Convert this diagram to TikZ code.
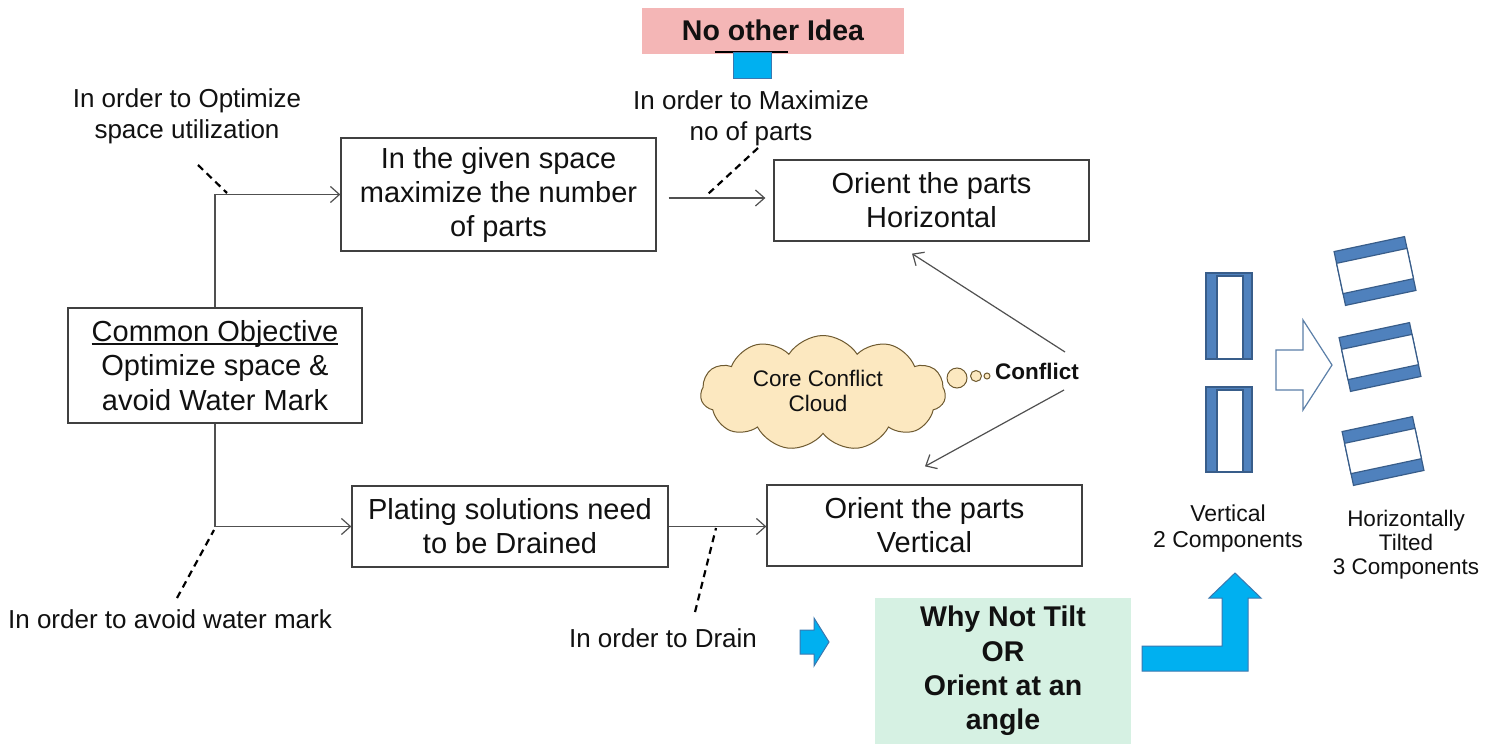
\documentclass[tikz,border=0pt]{standalone}
\usepackage{fontspec}
\setmainfont{Liberation Sans}
\usetikzlibrary{arrows.meta,shapes.symbols,calc}
\definecolor{boxc}{HTML}{404040}
\definecolor{linec}{HTML}{505050}
\definecolor{txt}{HTML}{111111}
\definecolor{pinkc}{HTML}{F4B6B6}
\definecolor{greenc}{HTML}{D6F1E3}
\definecolor{brightblue}{HTML}{00B0F0}
\definecolor{brightblueb}{HTML}{3A78B0}
\definecolor{compblue}{HTML}{4F81BD}
\definecolor{compblueb}{HTML}{385D8A}
\definecolor{cloudfill}{HTML}{FCE8C0}
\definecolor{cloudline}{HTML}{6E5A30}
\definecolor{hollowb}{HTML}{5B7FA8}
\newcommand{\myul}[1]{\setbox0\hbox{#1}\rlap{\rule[-3.5pt]{\wd0}{1.4pt}}\box0}
\begin{document}
\begin{tikzpicture}[x=1pt,y=-1pt,
  box/.style={draw=boxc, line width=1.3pt, align=center, inner sep=0pt, text=txt,
    font=\fontsize{29}{34}\selectfont},
  lab/.style={align=center, text=txt, font=\fontsize{26}{31}\selectfont},
  smalllab/.style={align=center, text=txt, font=\fontsize{23}{26}\selectfont},
  arr/.style={draw=linec, line width=1.2pt, -{Straight Barb[length=9pt,width=16pt,line width=1.2pt]}},
  dashln/.style={draw=black, line width=2.2pt, dash pattern=on 7pt off 5pt},
  comp/.style={fill=compblue, draw=compblueb, line width=1.2pt},
  compin/.style={fill=white, draw=compblueb, line width=1.2pt},
  bluearrow/.style={fill=brightblue, draw=brightblueb, line width=1pt}
]
\useasboundingbox (0,0) rectangle (1495,744);
\fill[white] (0,0) rectangle (1495,744);

% ---- top: No other Idea
\node[fill=pinkc, minimum width=262pt, minimum height=46pt, inner sep=0pt,
      font=\fontsize{28.5}{34}\selectfont\bfseries, text=txt] (idea) at (773,30.5) {No other Idea};
\draw[black, line width=1.2pt] (715,52) -- (788,52);
\draw[fill=brightblue, draw=brightblueb, line width=1pt] (733,52) rectangle (771,78);

% ---- main boxes
\node[box, minimum width=315pt, minimum height=113pt] (b1) at (498.5,194.5)
  {In the given space\\maximize the number\\of parts};
\node[box, minimum width=315pt, minimum height=81pt] (hz) at (931.5,200.5)
  {Orient the parts\\Horizontal};
\node[box, minimum width=294pt, minimum height=115pt, font=\fontsize{29}{34.5}\selectfont] (obj) at (215,365.5)
  {\myul{Common Objective}\\Optimize space \&\\avoid Water Mark};
\node[box, minimum width=316pt, minimum height=81pt] (b3) at (510,526.5)
  {Plating solutions need\\to be Drained};
\node[box, minimum width=315pt, minimum height=81pt] (vt) at (924.5,525.5)
  {Orient the parts\\Vertical};
\node[fill=greenc, minimum width=256pt, minimum height=146pt, inner sep=0pt, align=center,
      text=txt, font=\fontsize{28.5}{34.3}\selectfont\bfseries] (why) at (1003,671)
  {Why Not Tilt\\OR\\Orient at an\\angle};

% ---- labels
\node[lab] (lopt) at (187,116.5) {In order to Optimize\\space utilization};
\node[lab] (lmax) at (751,118) {In order to Maximize\\no of parts};
\node[lab] (lwat) at (170,619) {In order to avoid water mark};
\node[lab] (ldrn) at (663,638) {In order to Drain};

% ---- connectors
\draw[arr] (obj.north) |- (b1.west);
\draw[arr] (obj.south) |- (b3.west);
\draw[arr] ($(b1.east)+(12,3.5)$) -- ($(hz.west |- b1.east)+(-8,3.5)$);
\draw[arr] (b3.east) -- (vt.west |- b3.east);

% dashed reasons
\coordinate (d1a) at (198,165); \coordinate (d1b) at (227,193);
\coordinate (d2a) at (758,148); \coordinate (d2b) at (708,194);
\coordinate (d3a) at (177,598); \coordinate (d3b) at (214,530);
\coordinate (d4a) at (695,612); \coordinate (d4b) at (716,528);
\draw[dashln] (d1a) -- (d1b);
\draw[dashln] (d2a) -- (d2b);
\draw[dashln] (d3a) -- (d3b);
\draw[dashln] (d4a) -- (d4b);

% ---- cloud and conflict
\node[cloud, cloud puffs=11, cloud puff arc=115, aspect=2.1, fill=cloudfill, draw=cloudline,
      line width=1pt, minimum width=245pt, minimum height=115pt] (cloud) at (823,393) {};
\node[align=center, text=txt, font=\fontsize{22.5}{25}\selectfont] (cloudtxt) at (818,391) {Core Conflict\\Cloud};
\draw[fill=cloudfill, draw=cloudline, line width=1pt] (957,378) circle (10pt);
\draw[fill=cloudfill, draw=cloudline, line width=1pt] (976,376) circle (5.5pt);
\draw[fill=cloudfill, draw=cloudline, line width=1pt] (987,376) circle (3pt);
\node[text=txt, font=\fontsize{22.5}{26}\selectfont\bfseries] (conf) at (1037,371) {Conflict};
\draw[arr] ($(conf.center)+(28,-19)$) -- ($(hz.south)+(-19.5,12)$);
\draw[arr] ($(conf.center)+(27,19)$) -- ($(vt.north)+(0.5,-18)$);

% ---- bright blue arrows
\draw[bluearrow] (800,630) -- (814,630) -- (814,618) -- (829,642) -- (814,666) -- (814,654) -- (800,654) -- cycle;
\draw[bluearrow] (1142,646) -- (1222,646) -- (1222,598) -- (1209,598) -- (1235,573)
  -- (1261,598) -- (1248,598) -- (1248,671) -- (1142,671) -- cycle;

% ---- vertical components
\foreach \yt/\yb in {273/359, 387/472}{
  \draw[comp] (1206,\yt) rectangle (1252,\yb);
  \draw[compin] (1217,\yt+3) rectangle (1243,\yb);
}
\node[smalllab] (vlab) at (1228,529) {Vertical\\2 Components};

% ---- hollow arrow
\draw[fill=white, draw=hollowb, line width=1.2pt] (1276,350) -- (1303,350) -- (1303,320)
  -- (1332,365) -- (1303,410) -- (1303,390) -- (1276,390) -- cycle;

% ---- tilted components
\foreach \cx/\cy in {1375/271, 1380/357, 1383/451}{
  \begin{scope}[shift={(\cx,\cy)}, rotate=12]
    \draw[comp] (-36,-27.5) rectangle (36,27.5);
    \draw[compin] (-36,-15.5) rectangle (36,15.5);
  \end{scope}
}
\node[smalllab, font=\fontsize{22.5}{24}\selectfont] (hlab) at (1406,545) {Horizontally\\Tilted\\3 Components};
\end{tikzpicture}
\end{document}
